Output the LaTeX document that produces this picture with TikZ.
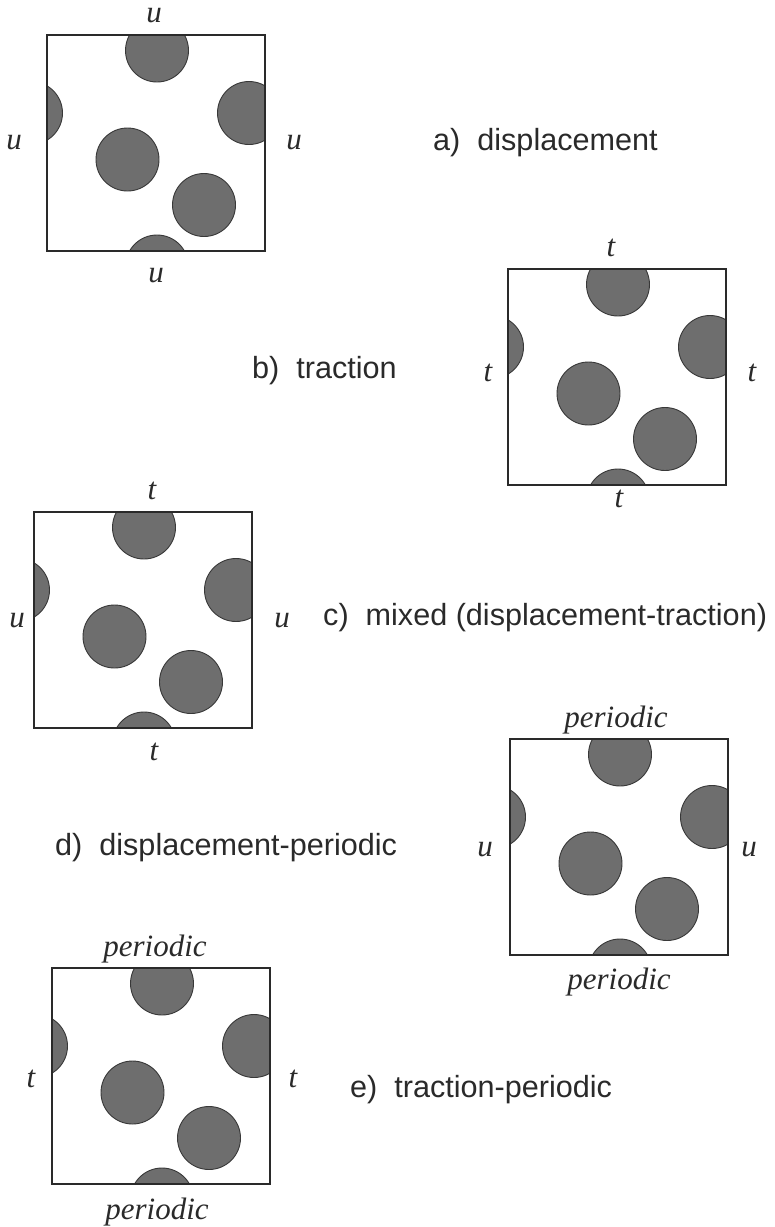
\documentclass[tikz,border=0pt]{standalone}
\usepackage{fontspec}
\setmainfont{Liberation Serif}
\setsansfont{Liberation Sans}
\definecolor{fibregray}{HTML}{6E6E6E}
\definecolor{fibreedge}{HTML}{383838}
\definecolor{inkgray}{HTML}{2A2A2A}

\begin{document}
\begin{tikzpicture}[x=1pt,y=-1pt,
  fibre/.style={fill=fibregray,draw=fibreedge,line width=0.9pt},
  cellbox/.style={draw=inkgray,line width=1.6pt},
  bc/.style={inner sep=0pt,text=inkgray,font=\fontsize{31}{36}\selectfont\itshape},
  capline/.style={anchor=base west,inner sep=0pt,text=inkgray,font=\fontsize{30.6}{36}\selectfont\sffamily},
  pics/cell/.style={code={
    \begin{scope}
      \clip (0,0) rectangle (218,216);
      \foreach \cx/\cy in {110/15.5,202/78,-16/78,80.5/124.5,157/170,110/231.5}
        \draw[fibre] (\cx,\cy) circle[radius=31.5pt];
    \end{scope}
    \draw[cellbox] (0,0) rectangle (218,216);
  }}]
  \path[fill=white,use as bounding box] (0,0) rectangle (775,1227);

  % a) displacement
  \pic (cellA) at (47,35) {cell};
  \node[bc] (aTop) at (154,16) {u};
  \node[bc] (aLeft) at (14,143) {u};
  \node[bc] (aRight) at (294,143) {u};
  \node[bc] (aBot) at (156,276) {u};
  \node[capline] (capA) at (433,150) {a)\ \ displacement};

  % b) traction
  \pic (cellB) at (508,269) {cell};
  \node[bc] (bTop) at (611,248) {t};
  \node[bc] (bLeft) at (488,373) {t};
  \node[bc] (bRight) at (752,373) {t};
  \node[bc] (bBot) at (619,499) {t};
  \node[capline] (capB) at (252,378) {b)\ \ traction};

  % c) mixed
  \pic (cellC) at (34,512) {cell};
  \node[bc] (cTop) at (152,491) {t};
  \node[bc] (cLeft) at (17,621) {u};
  \node[bc] (cRight) at (282,621) {u};
  \node[bc] (cBot) at (154,752) {t};
  \node[capline] (capC) at (323,625) {c)\ \ mixed (displacement-traction)};

  % d) displacement-periodic
  \pic (cellD) at (510,739) {cell};
  \node[bc] (dTop) at (616,720) {periodic};
  \node[bc] (dLeft) at (485,850) {u};
  \node[bc] (dRight) at (749,850) {u};
  \node[bc] (dBot) at (619,982) {periodic};
  \node[capline] (capD) at (55,855) {d)\ \ displacement-periodic};

  % e) traction-periodic
  \pic (cellE) at (52,968) {cell};
  \node[bc] (eTop) at (155,949) {periodic};
  \node[bc] (eLeft) at (31,1079) {t};
  \node[bc] (eRight) at (293,1079) {t};
  \node[bc] (eBot) at (157,1212) {periodic};
  \node[capline] (capE) at (350,1097) {e)\ \ traction-periodic};
\end{tikzpicture}
\end{document}
